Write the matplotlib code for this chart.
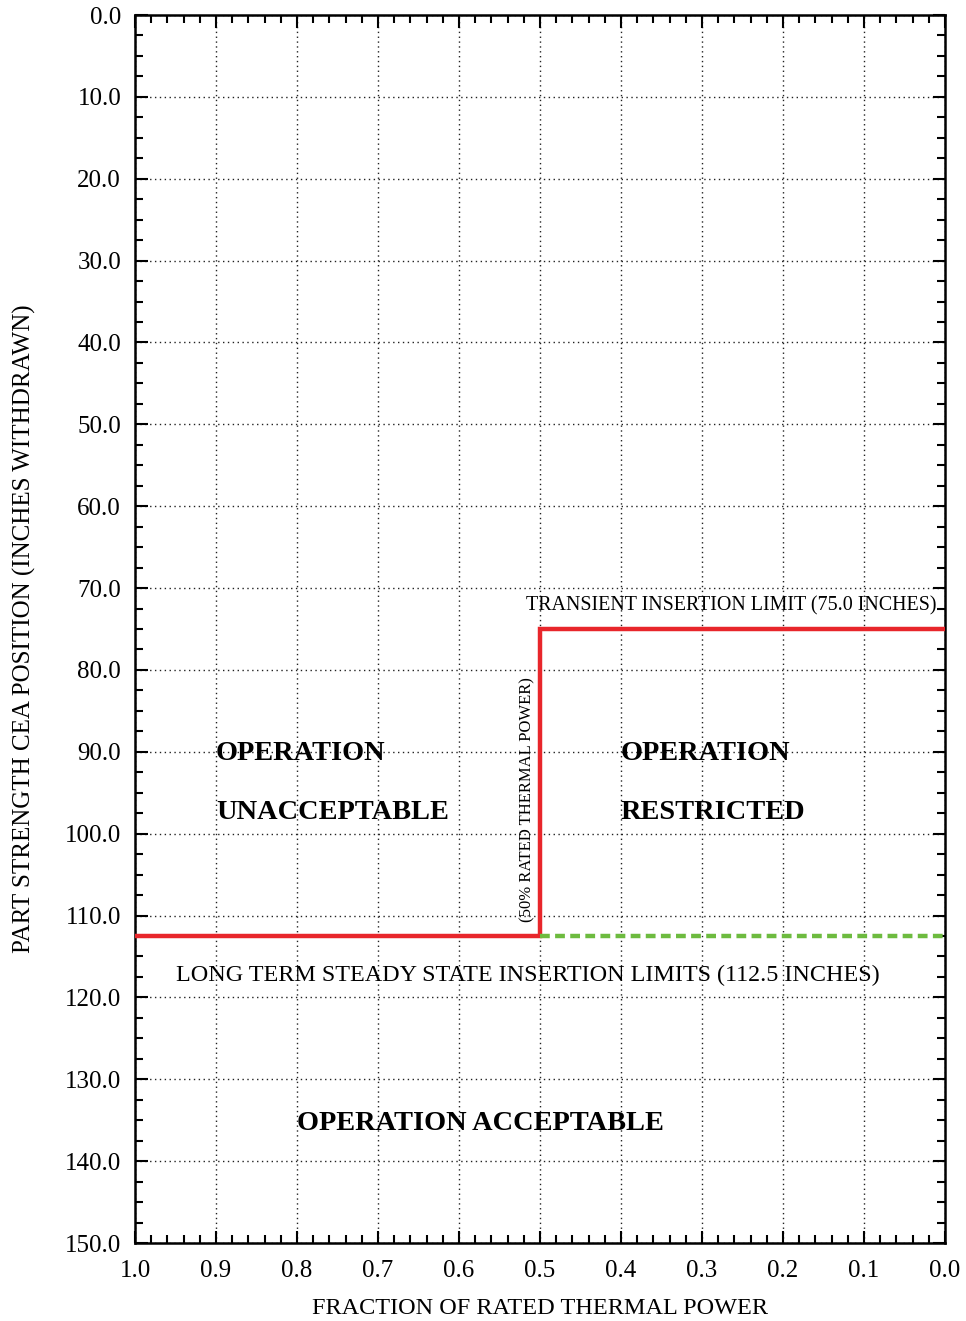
import numpy as np
import matplotlib.pyplot as plt
from matplotlib.ticker import MultipleLocator, FormatStrFormatter

plt.rcParams['font.family'] = ['Liberation Serif', 'DejaVu Serif']

# Limit line (power fraction vs CEA insertion, inches withdrawn)
limit_power = [1.0, 0.5, 0.5, 0.0]
limit_pos = [112.5, 112.5, 75.0, 75.0]

# Long term steady state limit, restricted region
steady_power = [0.5, 0.0]
steady_pos = [112.5, 112.5]

fig = plt.figure(figsize=(9.66, 13.21), dpi=100)
ax = fig.add_axes([135 / 966, 1 - 1243 / 1321, 810 / 966, 1228 / 1321])

ax.plot(limit_power, limit_pos, color='#e8262b', linewidth=3.2, solid_joinstyle='miter', zorder=3)
ax.plot(steady_power, steady_pos, color='#6dbb3f', linewidth=3.2, linestyle=(0, (2.2, 1.2)), zorder=3)

ax.set_xlim(1.0, 0.0)
ax.set_ylim(150.0, 0.0)
ax.xaxis.set_major_locator(MultipleLocator(0.1))
ax.xaxis.set_minor_locator(MultipleLocator(0.02))
ax.yaxis.set_major_locator(MultipleLocator(10))
ax.yaxis.set_minor_locator(MultipleLocator(2.5))
ax.xaxis.set_major_formatter(FormatStrFormatter('%.1f'))
ax.yaxis.set_major_formatter(FormatStrFormatter('%.1f'))

ax.tick_params(which='both', direction='in', top=True, right=True, labelsize=18, width=1.5)
ax.tick_params(which='major', length=9)
ax.tick_params(axis='x', which='major', pad=12)
ax.tick_params(axis='y', which='major', pad=10)
ax.tick_params(which='minor', length=6)
for s in ax.spines.values():
    s.set_linewidth(1.8)

ax.grid(True, which='major', color='#222222', linestyle=(0, (1, 2.5)), linewidth=1.0)

ax.set_xlabel('FRACTION OF RATED THERMAL POWER', fontsize=17.5, labelpad=12)
ax.set_ylabel('PART STRENGTH CEA POSITION (INCHES WITHDRAWN)', fontsize=18, labelpad=21)

ax.text(0.01, 72.2, 'TRANSIENT INSERTION LIMIT (75.0 INCHES)', fontsize=14.4, ha='right', va='center')
ax.text(0.515, 95.8, '(50% RATED THERMAL POWER)', fontsize=12, rotation=90, ha='center', va='center')
ax.text(0.95, 117.3, 'LONG TERM STEADY STATE INSERTION LIMITS (112.5 INCHES)', fontsize=17.4, ha='left', va='center')
ax.text(0.9, 90.2, 'OPERATION', fontsize=20.4, fontweight='bold', ha='left', va='center')
ax.text(0.9, 97.4, 'UNACCEPTABLE', fontsize=20.4, fontweight='bold', ha='left', va='center')
ax.text(0.4, 90.2, 'OPERATION', fontsize=20.4, fontweight='bold', ha='left', va='center')
ax.text(0.4, 97.4, 'RESTRICTED', fontsize=20.4, fontweight='bold', ha='left', va='center')
ax.text(0.8, 135.4, 'OPERATION ACCEPTABLE', fontsize=20.4, fontweight='bold', ha='left', va='center')

fig.savefig('out.png', dpi=100)
